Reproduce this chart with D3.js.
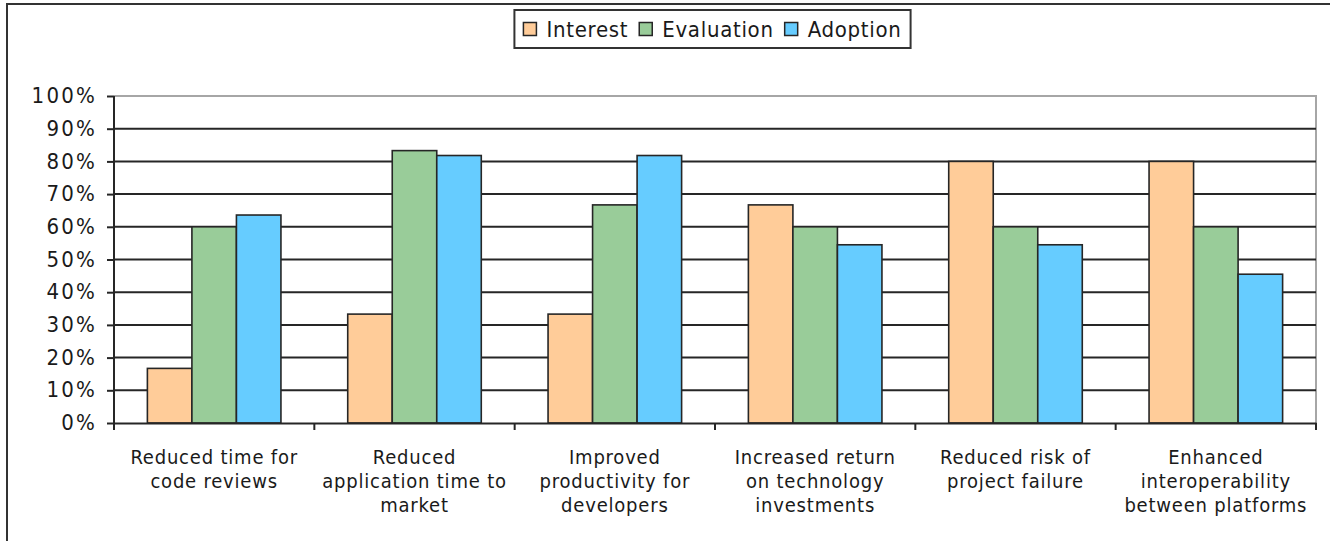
<!DOCTYPE html>
<html>
<head>
<meta charset="utf-8">
<script src="https://cdn.jsdelivr.net/npm/d3@7"></script>
<style>
  body { margin: 0; background: #fff; }
  svg { display: block; }
  text { font-family: "DejaVu Sans Condensed", "DejaVu Sans", sans-serif; font-stretch: condensed; fill: #1a1a1a; }
</style>
</head>
<body>
<svg id="chart" width="1330" height="541"></svg>
<script>
const categories = [
  "Reduced time for\ncode reviews",
  "Reduced\napplication time to\nmarket",
  "Improved\nproductivity for\ndevelopers",
  "Increased return\non technology\ninvestments",
  "Reduced risk of\nproject failure",
  "Enhanced\ninteroperability\nbetween platforms"
];
const seriesNames = ["Interest", "Evaluation", "Adoption"];
const interest = [16.7, 33.3, 33.3, 66.7, 80, 80];
const evaluation = [60, 83.3, 66.7, 60, 60, 60];
const adoption = [63.6, 81.8, 81.8, 54.5, 54.5, 45.5];
const yTicks = [0, 10, 20, 30, 40, 50, 60, 70, 80, 90, 100];

const colors = { Interest: "#ffcc99", Evaluation: "#99cc99", Adoption: "#66ccff" };
const seriesValues = { Interest: interest, Evaluation: evaluation, Adoption: adoption };

const plot = { left: 114, right: 1316, top: 96, bottom: 423 };
const ink = "#262626";
const textInk = "#1a1a2e";

const svg = d3.select("#chart");

// outer chart frame (right/bottom edges fall outside the picture)
svg.append("rect")
  .attr("x", 7).attr("y", 4)
  .attr("width", 1400).attr("height", 600)
  .attr("fill", "#fff")
  .attr("stroke", "#333")
  .attr("stroke-width", 2);

const x = d3.scaleBand().domain(categories).range([plot.left, plot.right]);
// gap width 150%: bars fill the middle two thirds of each band
const xs = d3.scaleBand()
  .domain(seriesNames)
  .range([x.bandwidth() / 6, x.bandwidth() * 5 / 6]);
const y = d3.scaleLinear().domain([0, 100]).range([plot.bottom, plot.top]);

// plot area border (top + right, grey)
svg.append("path")
  .attr("d", `M${plot.left},${plot.top}H${plot.right}V${plot.bottom}`)
  .attr("fill", "none")
  .attr("stroke", "#a6a6a6")
  .attr("stroke-width", 2);

// gridlines
svg.append("g")
  .selectAll("line")
  .data(yTicks.filter((t) => t > 0 && t < 100))
  .join("line")
  .attr("x1", plot.left).attr("x2", plot.right)
  .attr("y1", (d) => y(d)).attr("y2", (d) => y(d))
  .attr("stroke", ink)
  .attr("stroke-width", 2);

// bars
const rows = categories.flatMap((c, i) =>
  seriesNames.map((s) => ({ cat: c, series: s, value: seriesValues[s][i] }))
);
svg.append("g")
  .selectAll("rect")
  .data(rows)
  .join("rect")
  .attr("x", (d) => x(d.cat) + xs(d.series))
  .attr("y", (d) => y(d.value))
  .attr("width", xs.bandwidth())
  .attr("height", (d) => y(0) - y(d.value))
  .attr("fill", (d) => colors[d.series])
  .attr("stroke", ink)
  .attr("stroke-width", 1.6);

// y axis
const yAxis = svg.append("g")
  .attr("transform", `translate(${plot.left},0)`)
  .call(d3.axisLeft(y).tickValues(yTicks).tickSize(7).tickSizeOuter(0).tickPadding(10)
    .tickFormat((d) => d + "%"));
yAxis.select(".domain").remove();
yAxis.append("line")
  .attr("y1", plot.top).attr("y2", plot.bottom + 7)
  .attr("stroke", ink).attr("stroke-width", 2);
yAxis.selectAll(".tick line").attr("stroke", ink).attr("stroke-width", 2);
yAxis.selectAll(".tick text")
  .attr("font-size", 22)
  .attr("letter-spacing", 2.2)
  .attr("dy", "0.3em")
  .attr("fill", textInk);

// x axis: labels under each band, ticks on band edges
const xAxis = svg.append("g")
  .attr("transform", `translate(0,${plot.bottom})`)
  .call(d3.axisBottom(x).tickSize(0).tickSizeOuter(0));
xAxis.select(".domain")
  .attr("stroke", ink).attr("stroke-width", 2);
xAxis.selectAll(".tick text")
  .attr("dy", null)
  .attr("font-size", 20)
  .attr("letter-spacing", 0.8)
  .attr("fill", textInk)
  .each(function (d) {
    const t = d3.select(this).text(null);
    d.split("\n").forEach((line, i) => {
      t.append("tspan").attr("x", 0).attr("y", 41 + i * 24).text(line);
    });
  });
const edges = categories.map((c) => x(c)).concat(x.range()[1]).slice(1);
xAxis.append("g")
  .selectAll("line")
  .data(edges)
  .join("line")
  .attr("x1", (d) => d).attr("x2", (d) => d)
  .attr("y1", 0).attr("y2", 7)
  .attr("stroke", ink).attr("stroke-width", 2);

// legend
const legend = svg.append("g");
const box = legend.append("rect")
  .attr("fill", "#fff")
  .attr("stroke", "#333")
  .attr("stroke-width", 2);
const pad = 9, swatch = 13, textGap = 10, itemGap = 11;
let cursor = 0;
seriesNames.forEach((s) => {
  const item = legend.append("g").attr("transform", `translate(${cursor},0)`);
  item.append("rect")
    .attr("x", 0).attr("y", -swatch / 2)
    .attr("width", swatch).attr("height", swatch)
    .attr("fill", colors[s])
    .attr("stroke", ink).attr("stroke-width", 1.5);
  const label = item.append("text")
    .attr("x", swatch + textGap).attr("dy", "0.36em")
    .attr("font-size", 22)
    .attr("letter-spacing", 0.7)
    .attr("fill", textInk)
    .text(s);
  cursor += swatch + textGap + label.node().getComputedTextLength() + itemGap;
});
const legendWidth = cursor - itemGap + 2 * pad;
const legendLeft = 712.5 - legendWidth / 2;
legend.attr("transform", `translate(${legendLeft + pad},29)`);
box.attr("x", -pad).attr("y", -19).attr("width", legendWidth).attr("height", 38);
</script>
</body>
</html>
